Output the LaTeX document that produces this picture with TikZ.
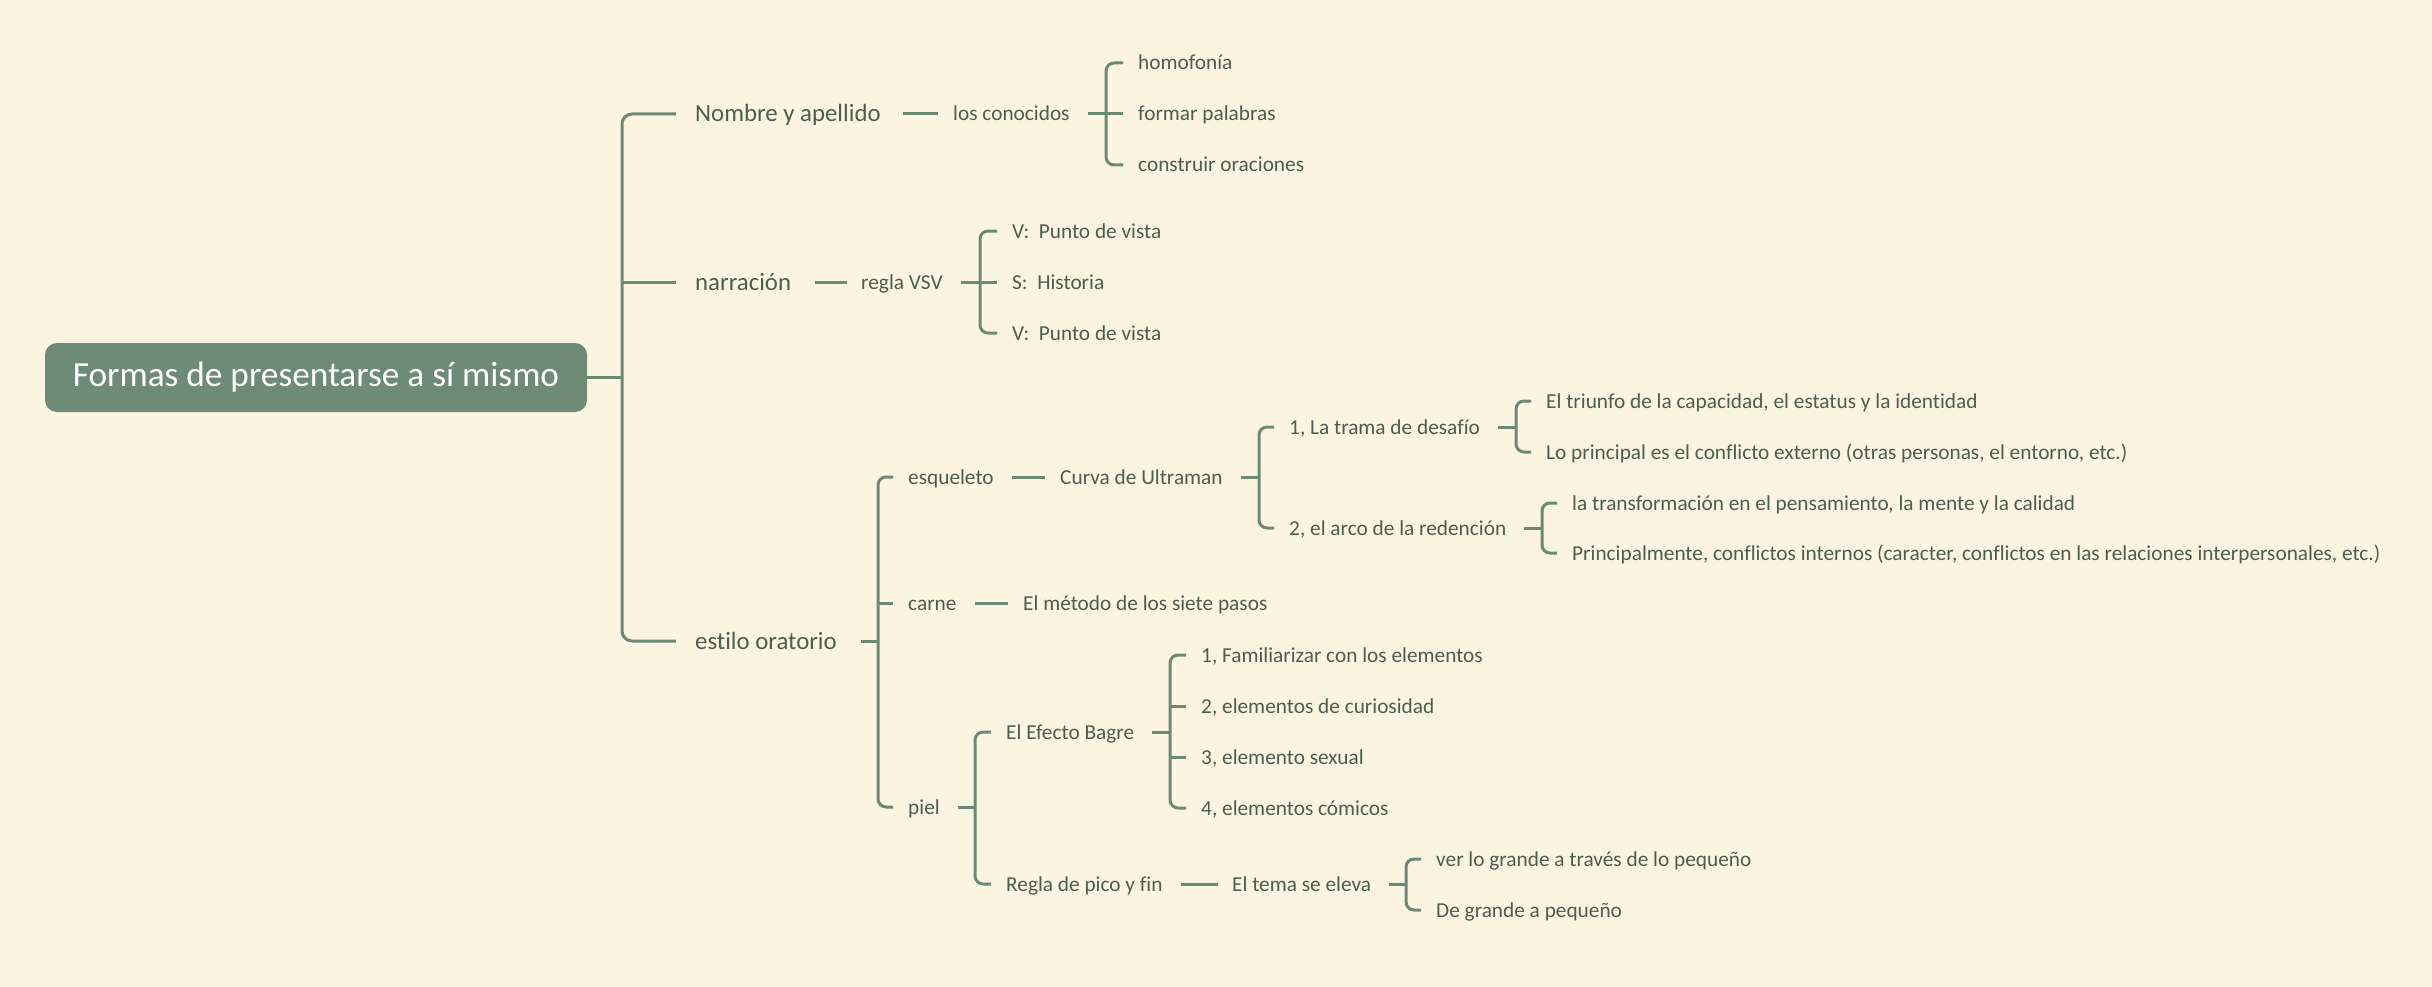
\documentclass[tikz,border=0pt]{standalone}
\usepackage{fontspec}
\setmainfont{Carlito}[Ligatures=NoCommon]
\definecolor{bgcream}{HTML}{FBF4E0}
\definecolor{linkgreen}{HTML}{6B8A74}
\definecolor{txtgreen}{HTML}{4B5E4F}
\definecolor{rootgreen}{HTML}{6D8B76}

\begin{document}
\begin{tikzpicture}[x=1pt, y=-1pt,
  topic/.style={anchor=west, inner sep=0pt, text height=16pt, text depth=2pt, text=txtgreen, font=\fontsize{21.3}{26}\selectfont},
  maintopic/.style={topic, text height=18pt, text depth=2pt, font=\fontsize{24.8}{30}\selectfont},
  link/.style={draw=linkgreen, line width=3pt, rounded corners=8pt}]

        \fill[bgcream] (0,0) rectangle (2432,987);
        \useasboundingbox (0,0) rectangle (2432,987);

        % central topic
        \node[rectangle, rounded corners=12pt, fill=rootgreen, text=white, minimum width=542pt, minimum height=69pt, font=\fontsize{35.3}{40}\selectfont] (root) at (316,377.5) {Formas de presentarse a sí mismo};

        % main branches
        \node[maintopic] (nombre) at (695,114) {Nombre y apellido};
        \node[maintopic] (narr) at (695,282) {narración};
        \node[maintopic] (estilo) at (695,641) {estilo oratorio};

        % Nombre y apellido
        \node[topic] (conocidos) at (953,114) {los conocidos};
        \node[topic] (homo) at (1138,63) {homofonía};
        \node[topic] (formar) at (1138,114) {formar palabras};
        \node[topic] (construir) at (1138,165) {construir oraciones};

        % narracion
        \node[topic] (vsv) at (861,282) {regla VSV};
        \node[topic] (vista1) at (1012,231) {V:\ \ Punto de vista};
        \node[topic] (historia) at (1012,282) {S:\ \ Historia};
        \node[topic] (vista2) at (1012,333) {V:\ \ Punto de vista};

        % estilo oratorio
        \node[topic] (esqueleto) at (908,477) {esqueleto};
        \node[topic] (carne) at (908,603) {carne};
        \node[topic] (piel) at (908,807) {piel};

        \node[topic] (curva) at (1060,477) {Curva de Ultraman};
        \node[topic] (trama) at (1289,427) {1, La trama de desafío};
        \node[topic] (redencion) at (1289,528) {2, el arco de la redención};
        \node[topic] (triunfo) at (1546,401) {El triunfo de la capacidad, el estatus y la identidad};
        \node[topic] (externo) at (1546,452) {Lo principal es el conflicto externo (otras personas, el entorno, etc.)};
        \node[topic] (transf) at (1572,503) {la transformación en el pensamiento, la mente y la calidad};
        \node[topic] (internos) at (1572,553) {Principalmente, conflictos internos (caracter, conflictos en las relaciones interpersonales, etc.)};

        \node[topic] (metodo) at (1023,603) {El método de los siete pasos};

        \node[topic] (bagre) at (1006,732) {El Efecto Bagre};
        \node[topic] (pico) at (1006,884) {Regla de pico y fin};
        \node[topic] (fam) at (1201,655) {1, Familiarizar con los elementos};
        \node[topic] (curios) at (1201,706) {2, elementos de curiosidad};
        \node[topic] (sexual) at (1201,757) {3, elemento sexual};
        \node[topic] (comicos) at (1201,808) {4, elementos cómicos};
        \node[topic] (tema) at (1232,884) {El tema se eleva};
        \node[topic] (grande) at (1436,859) {ver lo grande a través de lo pequeño};
        \node[topic] (pequeno) at (1436,910) {De grande a pequeño};

        % trunk
        \draw[link] (root.east) -- ([xshift=-73pt]nombre.west |- root.east);
        \draw[link, rounded corners=10pt] ([xshift=-19pt]nombre.west) -| ([xshift=-73pt]estilo.west) -- ([xshift=-19pt]estilo.west);
        \draw[link] ([xshift=-73pt]narr.west) -- ([xshift=-19pt]narr.west);

        % Nombre y apellido
        \draw[link] ([xshift=22pt]nombre.east) -- ([xshift=-15pt]conocidos.west);
        \draw[link] ([xshift=18pt]conocidos.east) -- ([xshift=-15pt]formar.west);
        \draw[link] ([xshift=-15pt]homo.west) -| ([xshift=-32pt]construir.west) -- ([xshift=-15pt]construir.west);

        % narracion
        \draw[link] ([xshift=24pt]narr.east) -- ([xshift=-14pt]vsv.west);
        \draw[link] ([xshift=18pt]vsv.east) -- ([xshift=-15pt]historia.west);
        \draw[link] ([xshift=-15pt]vista1.west) -| ([xshift=-32pt]vista2.west) -- ([xshift=-15pt]vista2.west);

        % estilo oratorio
        \draw[link] ([xshift=24pt]estilo.east) -- ([xshift=-30pt]esqueleto.west |- estilo.east);
        \draw[link] ([xshift=-15pt]esqueleto.west) -| ([xshift=-30pt]piel.west) -- ([xshift=-15pt]piel.west);
        \draw[link] ([xshift=-30pt]carne.west) -- ([xshift=-15pt]carne.west);

        \draw[link] ([xshift=18pt]esqueleto.east) -- ([xshift=-15pt]curva.west);
        \draw[link] ([xshift=18pt]curva.east) -- ([xshift=-30pt]trama.west |- curva.east);
        \draw[link] ([xshift=-15pt]trama.west) -| ([xshift=-30pt]redencion.west) -- ([xshift=-15pt]redencion.west);

        \draw[link] ([xshift=18pt]trama.east) -- ([xshift=-30pt]triunfo.west |- trama.east);
        \draw[link] ([xshift=-15pt]triunfo.west) -| ([xshift=-30pt]externo.west) -- ([xshift=-15pt]externo.west);

        \draw[link] ([xshift=18pt]redencion.east) -- ([xshift=-30pt]transf.west |- redencion.east);
        \draw[link] ([xshift=-15pt]transf.west) -| ([xshift=-30pt]internos.west) -- ([xshift=-15pt]internos.west);

        \draw[link] ([xshift=18pt]carne.east) -- ([xshift=-15pt]metodo.west);

        \draw[link] ([xshift=18pt]piel.east) -- ([xshift=-31pt]bagre.west |- piel.east);
        \draw[link] ([xshift=-15pt]bagre.west) -| ([xshift=-31pt]pico.west) -- ([xshift=-15pt]pico.west);

        \draw[link] ([xshift=18pt]bagre.east) -- ([xshift=-31pt]fam.west |- bagre.east);
        \draw[link] ([xshift=-15pt]fam.west) -| ([xshift=-31pt]comicos.west) -- ([xshift=-15pt]comicos.west);
        \draw[link] ([xshift=-31pt]curios.west) -- ([xshift=-15pt]curios.west);
        \draw[link] ([xshift=-31pt]sexual.west) -- ([xshift=-15pt]sexual.west);

        \draw[link] ([xshift=18pt]pico.east) -- ([xshift=-14pt]tema.west);
        \draw[link] ([xshift=18pt]tema.east) -- ([xshift=-30pt]grande.west |- tema.east);
        \draw[link] ([xshift=-15pt]grande.west) -| ([xshift=-30pt]pequeno.west) -- ([xshift=-15pt]pequeno.west);

    \end{tikzpicture}
\end{document}
